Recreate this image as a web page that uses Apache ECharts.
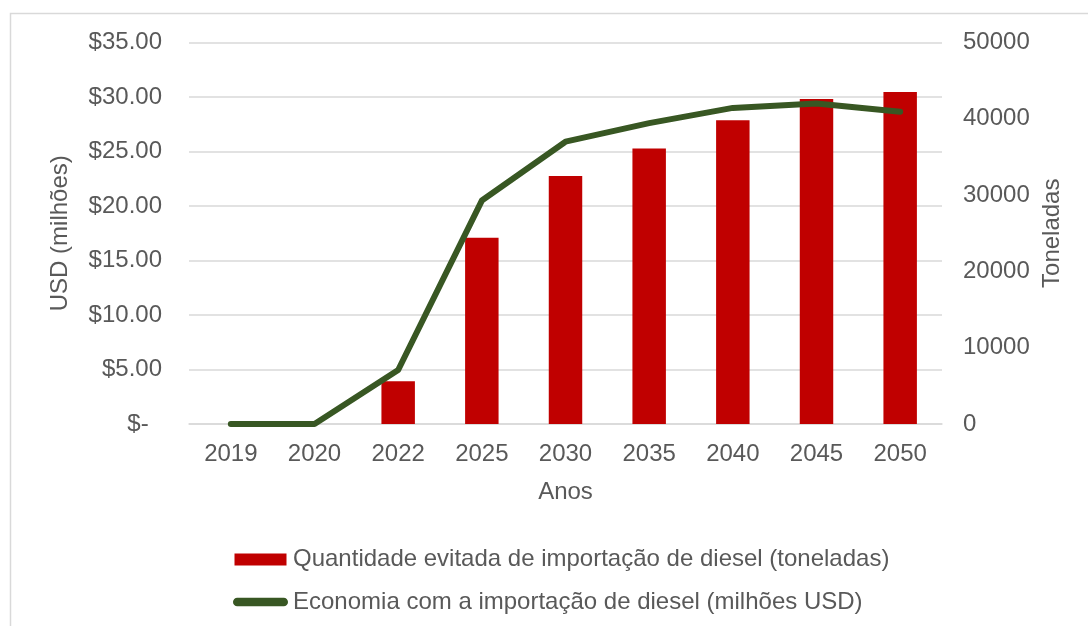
<!DOCTYPE html>
<html>
<head>
<meta charset="utf-8">
<script src="https://cdn.jsdelivr.net/npm/echarts@6/dist/echarts.min.js"></script>
<style>
html,body{margin:0;padding:0;background:#fff;}
#chart{width:1088px;height:626px;}
</style>
</head>
<body>
<div id="chart"></div>
<script>
const categories = ['2019','2020','2022','2025','2030','2035','2040','2045','2050'];
const toneladas = [0, 0, 5600, 24400, 32500, 36100, 39800, 42600, 43500];
const economiaUSD = [0, 0, 4.95, 20.5, 25.9, 27.6, 29.0, 29.4, 28.65];
const barName = 'Quantidade evitada de importação de diesel (toneladas)';
const lineName = 'Economia com a importação de diesel (milhões USD)';

const font = 'Liberation Sans, Arial, sans-serif';
const txt = '#595959';
const chart = echarts.init(document.getElementById('chart'), null, {renderer:'canvas'});
chart.setOption({
  animation: false,
  backgroundColor: '#fff',
  textStyle: {fontFamily: font},
  graphic: [{
    type: 'rect', left: 8, top: 11, silent: true,
    shape: {width: 1100, height: 700},
    style: {fill: 'none', stroke: '#d9d9d9', lineWidth: 1.5}
  }],
  grid: {left: 189, right: 146, top: 42.5, bottom: 202},
  legend: {
    orient: 'vertical', left: 228, top: 542.5, itemGap: 18.5,
    itemWidth: 55, itemHeight: 12,
    textStyle: {fontSize: 24, color: txt, fontFamily: font, lineHeight: 24},
    data: [
      {name: barName, icon: 'path://M0,0L52,0L52,12L0,12Z'},
      {name: lineName, icon: 'path://M4.5,0L53.5,0A4.5,4.5,0,0,1,53.5,9L4.5,9A4.5,4.5,0,0,1,4.5,0Z'}
    ]
  },
  xAxis: {
    type: 'category', data: categories,
    name: 'Anos', nameLocation: 'middle', nameGap: 56,
    nameTextStyle: {fontSize: 24, color: txt, fontFamily: font, lineHeight: 24},
    axisLine: {lineStyle: {color: '#d9d9d9', width: 1.5}},
    axisTick: {show: false},
    axisLabel: {fontSize: 24, color: txt, margin: 18, fontFamily: font, lineHeight: 24}
  },
  yAxis: [{
    type: 'value', min: 0, max: 35, interval: 5, position: 'left',
    name: 'USD (milhões)', nameLocation: 'middle', nameRotate: 90, nameGap: 117,
    nameTextStyle: {fontSize: 24, color: txt, fontFamily: font, lineHeight: 24},
    axisLine: {show: false}, axisTick: {show: false},
    splitLine: {lineStyle: {color: '#d9d9d9', width: 1.5}},
    axisLabel: {fontSize: 24, color: txt, margin: 27, fontFamily: font,
      formatter: v => v === 0 ? '$-\u00a0\u00a0' : '$' + v.toFixed(2)}
  }, {
    type: 'value', min: 0, max: 50000, interval: 10000, position: 'right',
    name: 'Toneladas', nameLocation: 'middle', nameRotate: 90, nameGap: 93,
    nameTextStyle: {fontSize: 24, color: txt, fontFamily: font, lineHeight: 24},
    axisLine: {show: false}, axisTick: {show: false},
    splitLine: {show: false},
    axisLabel: {fontSize: 24, color: txt, margin: 21, fontFamily: font,
      formatter: v => String(v)}
  }],
  series: [{
    name: barName, type: 'bar', yAxisIndex: 1, data: toneladas,
    barWidth: '40%', itemStyle: {color: '#c00000'}
  }, {
    name: lineName, type: 'line', yAxisIndex: 0, data: economiaUSD,
    symbol: 'none', color: '#385723',
    lineStyle: {color: '#385723', width: 6, cap: 'round', join: 'round'},
    itemStyle: {color: '#385723'}
  }]
});
</script>
</body>
</html>
